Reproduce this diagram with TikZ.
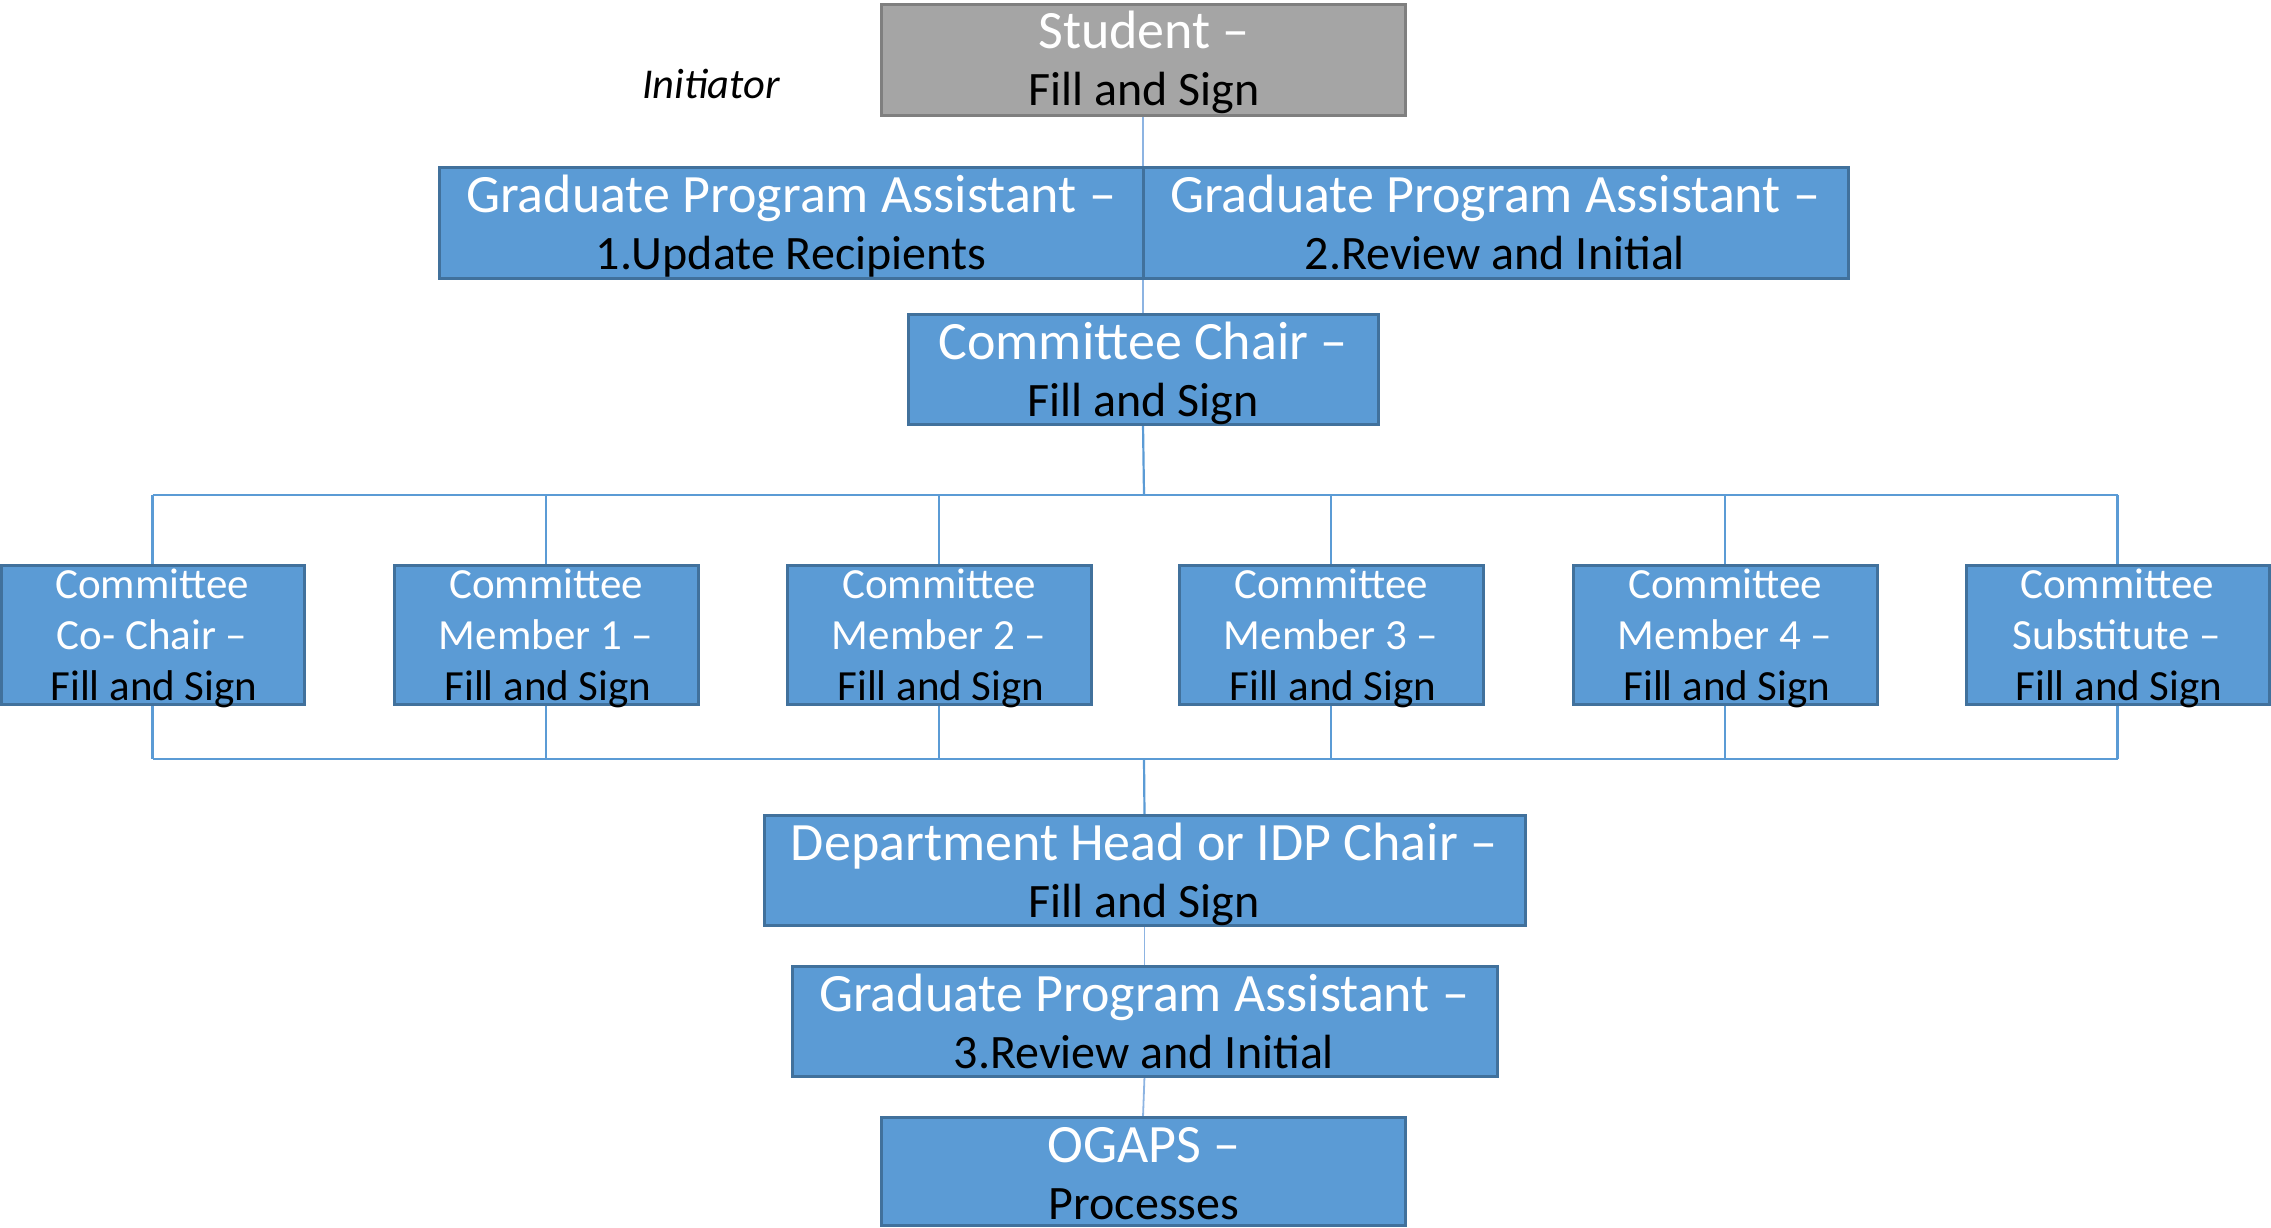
\documentclass[tikz,border=0pt]{standalone}
\usepackage{fontspec}
\setmainfont{Carlito}
\usetikzlibrary{backgrounds}
\definecolor{bl}{HTML}{5B9BD5}
\definecolor{bdr}{HTML}{41719C}
\definecolor{gr}{HTML}{A5A5A5}
\definecolor{grb}{HTML}{7F7F7F}
\definecolor{conn}{HTML}{5B9BD5}
\definecolor{lconn}{HTML}{8DB4E2}
\tikzset{
  box/.style={draw=bdr, fill=bl, line width=3pt, anchor=north west, inner sep=0pt, outer sep=0pt},
  graybox/.style={box, draw=grb, fill=gr},
  big/.style={font=\fontsize{54}{58}\selectfont, anchor=base, inner sep=0pt},
  bigb/.style={font=\fontsize{48}{58}\selectfont, anchor=base, inner sep=0pt},
  small/.style={font=\fontsize{43}{51}\selectfont, anchor=base, inner sep=0pt},
  wt/.style={text=white},
  bk/.style={text=black},
  link/.style={draw=lconn, line width=1.8pt},
  buslink/.style={draw=conn, line width=2.2pt},
}
\begin{document}
\begin{tikzpicture}[x=1pt,y=-1pt]
\useasboundingbox (0,0) rectangle (2271,1228);
% boxes
\node (stu) [graybox, minimum width=524pt, minimum height=111pt] at (881,5) {};
\node (gpa1) [box, minimum width=704pt, minimum height=110pt] at (439,168) {};
\node (gpa2) [box, minimum width=705pt, minimum height=110pt] at (1143,168) {};
\node (chair) [box, minimum width=470pt, minimum height=110pt] at (908,314) {};
\node (c1) [box, minimum width=303pt, minimum height=139pt] at (1,565) {};
\node (c2) [box, minimum width=304pt, minimum height=139pt] at (394,565) {};
\node (c3) [box, minimum width=304pt, minimum height=139pt] at (787,565) {};
\node (c4) [box, minimum width=304pt, minimum height=139pt] at (1179,565) {};
\node (c5) [box, minimum width=304pt, minimum height=139pt] at (1573,565) {};
\node (c6) [box, minimum width=303pt, minimum height=139pt] at (1966,565) {};
\node (dept) [box, minimum width=761pt, minimum height=110pt] at (764,815) {};
\node (gpa3) [box, minimum width=705pt, minimum height=110pt] at (792,966) {};
\node (ogaps) [box, minimum width=524pt, minimum height=108pt] at (881,1117) {};
% texts
\node (stuA) [big, wt] at (1144,49) {Student –};
\node (stuB) [bigb, bk] at (1144,106) {Fill and Sign};
\node (init) [font=\fontsize{42.5}{48}\selectfont\itshape, anchor=base, inner sep=0pt] at (711,99) {Initiator};
\node (g1A) [big, wt] at (791,212) {Graduate Program Assistant –};
\node (g1B) [bigb, bk] at (791,269) {1.Update Recipients};
\node (g2A) [big, wt] at (1495,212) {Graduate Program Assistant –};
\node (g2B) [bigb, bk] at (1495,269) {2.Review and Initial};
\node (chA) [big, wt] at (1143,359) {Committee Chair –};
\node (chB) [bigb, bk] at (1143,416) {Fill and Sign};
\foreach \n/\x/\t in {c1/152/Co- Chair –, c2/546/Member 1 –, c3/939/Member 2 –, c4/1331/Member 3 –, c5/1725/Member 4 –, c6/2117/Substitute –}{
  \node (\n A) [small, wt] at (\x,598) {Committee};
  \node (\n B) [small, wt] at (\x,649) {\t};
  \node (\n C) [small, bk] at (\x+2,700) {Fill and Sign};
}
\node (dA) [big, wt] at (1144,860) {Department Head or IDP Chair –};
\node (dB) [bigb, bk] at (1144,917) {Fill and Sign};
\node (g3A) [big, wt] at (1144,1011) {Graduate Program Assistant –};
\node (g3B) [bigb, bk] at (1144,1068) {3.Review and Initial};
\node (oA) [big, wt] at (1144,1162) {OGAPS –};
\node (oB) [bigb, bk] at (1144,1219) {Processes};
% connectors
\coordinate (tbus) at (1144,495);
\coordinate (bbus) at (1144,759);
\begin{pgfonlayer}{background}
\draw[link] (stu.south) -- (chair.north);
\draw[buslink] (chair.south) -- (tbus);
\draw[buslink] (c1.north |- tbus) -- (c6.north |- tbus);
\foreach \n in {c1,c2,c3,c4,c5,c6}{
  \draw[buslink] (\n.north |- tbus) -- (\n.north);
  \draw[buslink] (\n.south) -- (\n.south |- bbus);
}
\draw[buslink] (c1.south |- bbus) -- (c6.south |- bbus);
\draw[buslink] (bbus) -- (dept.north);
\draw[link] (dept.south) -- (gpa3.north);
\draw[link] (gpa3.south) -- (ogaps.north);
\end{pgfonlayer}
\end{tikzpicture}
\end{document}
